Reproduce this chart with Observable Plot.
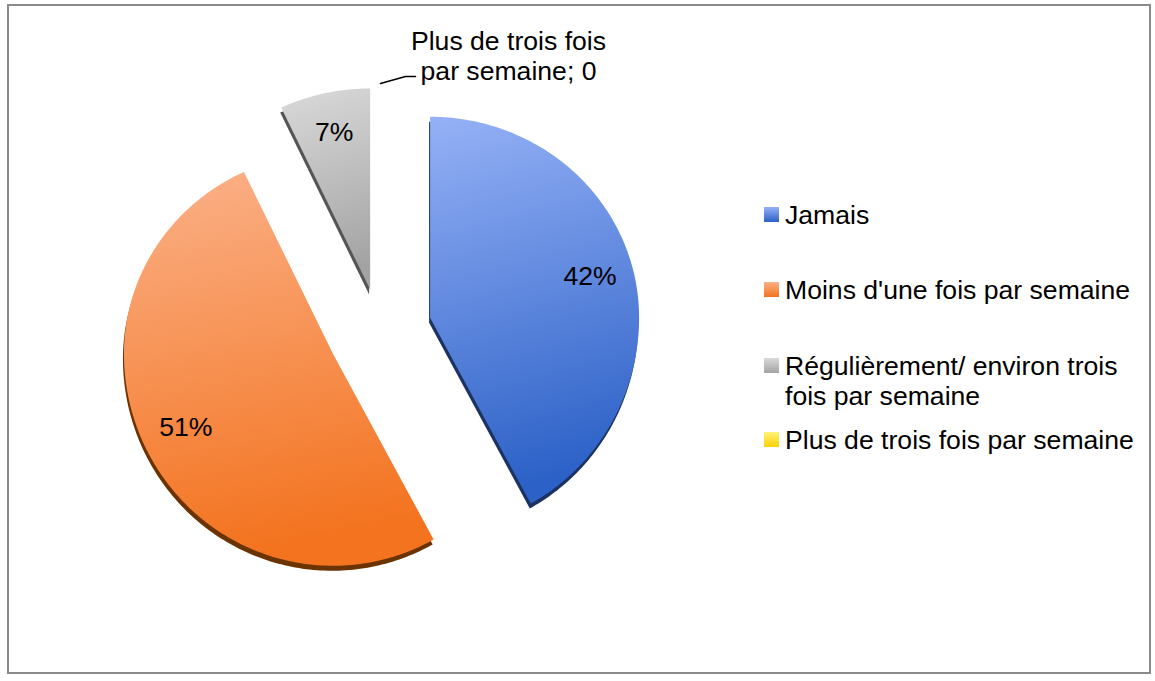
<!DOCTYPE html>
<html>
<head>
<meta charset="utf-8">
<script src="https://cdn.jsdelivr.net/npm/d3@7"></script>
<script src="https://cdn.jsdelivr.net/npm/@observablehq/plot@0.6"></script>
<style>
  html, body { margin: 0; padding: 0; background: #fff; }
  #wrap { position: relative; width: 1155px; height: 681px; overflow: hidden; font-family: "Liberation Sans", Arial, sans-serif; }
  #border { position: absolute; left: 7px; top: 4px; width: 1144px; height: 670px; border: 2px solid #8a8a8a; box-sizing: border-box; }
  #chart { position: absolute; left: 0; top: 0; }
  .leg { position: absolute; left: 764px; font-size: 26.6px; line-height: 30px; color: #000; }
  .leg .sw { position: absolute; left: 0; top: 7px; width: 15px; height: 15px; }
  .leg .tx { position: absolute; left: 21px; top: 0; white-space: nowrap; }
</style>
</head>
<body>
<div id="wrap">
  <div id="border"></div>
  <div id="chart"></div>
  <div id="legend"></div>
</div>
<script>
// ---- data ----
const categories = ["Jamais", "Moins d'une fois par semaine", "Régulièrement/ environ trois fois par semaine", "Plus de trois fois par semaine"];
const shares = [0.42, 0.51, 0.07, 0];
const dataLabels = ["42%", "51%", "7%", "Plus de trois fois\npar semaine; 0"];
const legendLines = [["Jamais"], ["Moins d'une fois par semaine"], ["Régulièrement/ environ trois", "fois par semaine"], ["Plus de trois fois par semaine"]];

// ---- styles / layout ----
const explode = [0.25, 0.25, 0.205, 0.21];
const gradients = [
  {id: "gBlue", top: "#95b1f6", bottom: "#2c61c7", shadow: "#1c3260"},
  {id: "gOrange", top: "#fbb189", bottom: "#f3731f", shadow: "#6b3300"},
  {id: "gGray", top: "#dadada", bottom: "#a3a3a3", shadow: "#555555"},
  {id: "gYellow", top: "#fff27a", bottom: "#ffd000", shadow: "#8a7000"}
];
const W = 1155, H = 681;
const cx = 379, cy = 330;      // pie centre in px
const rxPx = 209, ryPx = 205;  // px per unit radius
const topSquash = 201 / 205, botStretch = 212 / 205;
const fs = 26.6;

// ---- build slice polygons from shares ----
const polys = [], labelPts = [], outer = [];
let acc = 0;
shares.forEach((v, i) => {
  const a0 = acc * 2 * Math.PI; acc += v; const a1 = acc * 2 * Math.PI;
  const mid = (a0 + a1) / 2;
  const ax = explode[i] * Math.sin(mid), ay = explode[i] * Math.cos(mid);
  const pt = (a, k) => {
    const c = Math.cos(a);
    return {x: ax + k * Math.sin(a), y: ay + k * c * (c > 0 ? topSquash : botStretch)};
  };
  const pts = [{x: ax, y: ay}];
  const n = Math.max(2, Math.ceil((a1 - a0) / (Math.PI / 180)));
  for (let j = 0; j <= n; j++) pts.push(pt(a0 + (a1 - a0) * j / n, 1));
  pts.push({x: ax, y: ay});
  polys.push(pts.map(p => ({...p, k: i})));
  const lp = pt(mid, 0.79);
  labelPts.push({...lp, label: dataLabels[i], k: i});
  outer.push(pt(mid, 1));
});

// zero slice: external label with leader
const z = outer[3];
const leader = [
  {x: z.x + 1 / rxPx, y: z.y + 3 / ryPx},
  {x: z.x + 26 / rxPx, y: z.y + 10 / ryPx},
  {x: z.x + 36 / rxPx, y: z.y + 10 / ryPx}
];

const marks = [];
for (let i = 0; i < 3; i++) {
  marks.push(Plot.line(polys[i], {x: "x", y: "y", fill: gradients[i].shadow, stroke: "none", curve: "linear-closed", dx: -1, dy: 5}));
  marks.push(Plot.line(polys[i], {x: "x", y: "y", fill: `url(#${gradients[i].id})`, stroke: "none", curve: "linear-closed"}));
}
marks.push(Plot.text(labelPts.slice(0, 3), {x: "x", y: "y", text: "label", fontSize: fs, fill: "#000", dy: -2}));
marks.push(Plot.line(leader, {x: "x", y: "y", stroke: "#000", strokeWidth: 1.5}));
marks.push(Plot.text([{...z, label: dataLabels[3]}], {x: "x", y: "y", text: "label", fontSize: fs, fill: "#000", lineHeight: 1.13, dx: 129, dy: -31}));

const plot = Plot.plot({
  width: W, height: H,
  margin: 0,
  x: {domain: [-cx / rxPx, (W - cx) / rxPx], axis: null},
  y: {domain: [-(H - cy) / ryPx, cy / ryPx], axis: null},
  style: {background: "transparent", fontFamily: "'Liberation Sans', Arial, sans-serif"},
  marks
});

// gradient defs
const ns = "http://www.w3.org/2000/svg";
const defs = document.createElementNS(ns, "defs");
gradients.forEach(g => {
  const lg = document.createElementNS(ns, "linearGradient");
  lg.setAttribute("id", g.id);
  lg.setAttribute("x1", "0"); lg.setAttribute("y1", "0");
  lg.setAttribute("x2", "0.15"); lg.setAttribute("y2", "1");
  [[0, g.top], [1, g.bottom]].forEach(([o, c]) => {
    const s = document.createElementNS(ns, "stop");
    s.setAttribute("offset", o); s.setAttribute("stop-color", c);
    lg.appendChild(s);
  });
  defs.appendChild(lg);
});
plot.insertBefore(defs, plot.firstChild);
document.getElementById("chart").appendChild(plot);

// legend
const legendTops = [199.5, 275, 350.5, 424.5];
const leg = document.getElementById("legend");
categories.forEach((c, i) => {
  const d = document.createElement("div");
  d.className = "leg";
  d.style.top = legendTops[i] + "px";
  const sw = document.createElement("div");
  sw.className = "sw";
  sw.style.background = `linear-gradient(to bottom, ${gradients[i].top}, ${gradients[i].bottom})`;
  const tx = document.createElement("div");
  tx.className = "tx";
  tx.innerHTML = legendLines[i].join("<br>");
  d.appendChild(sw); d.appendChild(tx);
  leg.appendChild(d);
});
</script>
</body>
</html>
